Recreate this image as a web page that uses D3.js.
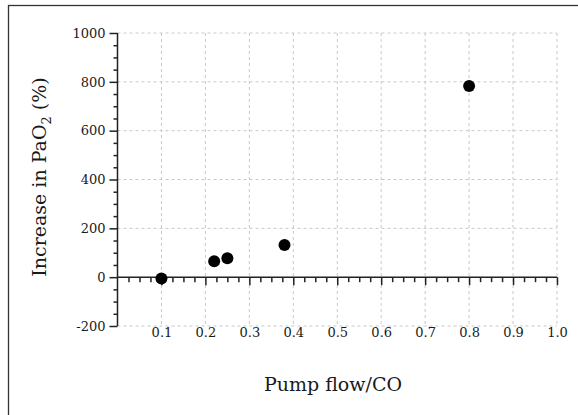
<!DOCTYPE html>
<html><head><meta charset="utf-8">
<script src="https://cdn.jsdelivr.net/npm/d3@7"></script>
<style>
html,body{margin:0;padding:0;background:#fff;}
svg{display:block;}
text{font-family:"DejaVu Serif",serif;fill:#1a1a1a;}
</style></head>
<body>
<div id="chart"></div>
<script>
// Data
const pumpFlow = [0.10, 0.22, 0.25, 0.38, 0.80];
const increasePaO2 = [-5, 65, 77, 132, 783];
const xTicks = [0.1, 0.2, 0.3, 0.4, 0.5, 0.6, 0.7, 0.8, 0.9, 1.0];
const yTicks = [-200, 0, 200, 400, 600, 800, 1000];
const xLabel = "Pump flow/CO";

const W = 578, H = 415;
const svg = d3.select("#chart").append("svg").attr("width", W).attr("height", H);

// frame
svg.append("rect").attr("x", 8.5).attr("y", 5.5).attr("width", 600).attr("height", 450)
  .attr("fill", "none").attr("stroke", "#333").attr("stroke-width", 1.3);

const x = d3.scaleLinear().domain([0, 1.0]).range([117.5, 557]);
const y = d3.scaleLinear().domain([-200, 1000]).range([326, 33]);

// grid
const grid = svg.append("g").attr("stroke", "#c8c8c8").attr("stroke-dasharray", "3,3").attr("stroke-width", 1);
grid.selectAll("line.v").data(xTicks).join("line")
  .attr("x1", d => x(d)).attr("x2", d => x(d)).attr("y1", y(1000)).attr("y2", y(-200));
grid.selectAll("line.h").data(yTicks.filter(d => d !== 0)).join("line")
  .attr("x1", x(0)).attr("x2", x(1.0)).attr("y1", d => y(d)).attr("y2", d => y(d));

// y axis
const yAxis = d3.axisLeft(y).tickValues(yTicks).tickSize(8).tickPadding(4).tickFormat(d => String(d));
const yMinor = d3.axisLeft(y).tickValues(d3.range(-200, 1001, 50).filter(v => v % 200 !== 0)).tickSize(4).tickFormat("");
const gy = svg.append("g").attr("transform", `translate(${x(0)},0)`).call(yAxis);
const gym = svg.append("g").attr("transform", `translate(${x(0)},0)`).call(yMinor);
gym.select(".domain").remove();
gy.select(".domain").attr("d", `M0,${y(1000)}V${y(-200)}`);
[gy, gym].forEach(g => g.selectAll("line,path").attr("stroke", "#222").attr("stroke-width", 1.5));
gy.selectAll("text").attr("font-size", 13).attr("font-family", "DejaVu Serif").attr("fill", "#1a1a1a");

// x axis
const xAxis = d3.axisBottom(x).tickValues(xTicks).tickSize(8).tickFormat(d3.format(".1f")).tickPadding(0);
const xMinor = d3.axisBottom(x).tickValues(d3.range(1, 40).map(i => i * 0.025).filter((v, i) => (i + 1) % 4 !== 0)).tickSize(5).tickFormat("");
const gx = svg.append("g").attr("transform", `translate(0,${y(0)})`).call(xAxis);
const gxm = svg.append("g").attr("transform", `translate(0,${y(0)})`).call(xMinor);
gxm.select(".domain").remove();
gx.select(".domain").attr("d", `M${x(0)},0H${x(1.0)}`);
[gx, gxm].forEach(g => g.selectAll("line,path").attr("stroke", "#222").attr("stroke-width", 1.5));
gx.selectAll("text").attr("font-size", 13).attr("font-family", "DejaVu Serif").attr("fill", "#1a1a1a")
  .attr("y", y(-200) - y(0) + 11).attr("dy", 0);

// points
svg.append("g").selectAll("circle").data(pumpFlow).join("circle")
  .attr("cx", d => x(d)).attr("cy", (d, i) => y(increasePaO2[i])).attr("r", 6).attr("fill", "#000");

// axis titles
svg.append("text").attr("x", 333).attr("y", 391).attr("text-anchor", "middle")
  .attr("font-size", 19).text(xLabel);

const yt = svg.append("text").attr("transform", "translate(46,177) rotate(-90)")
  .attr("text-anchor", "middle").attr("font-size", 19);
yt.append("tspan").text("Increase in PaO");
yt.append("tspan").attr("font-size", 13).attr("dy", 5).text("2");
yt.append("tspan").attr("dy", -5).text(" (%)");
</script>
</body></html>
